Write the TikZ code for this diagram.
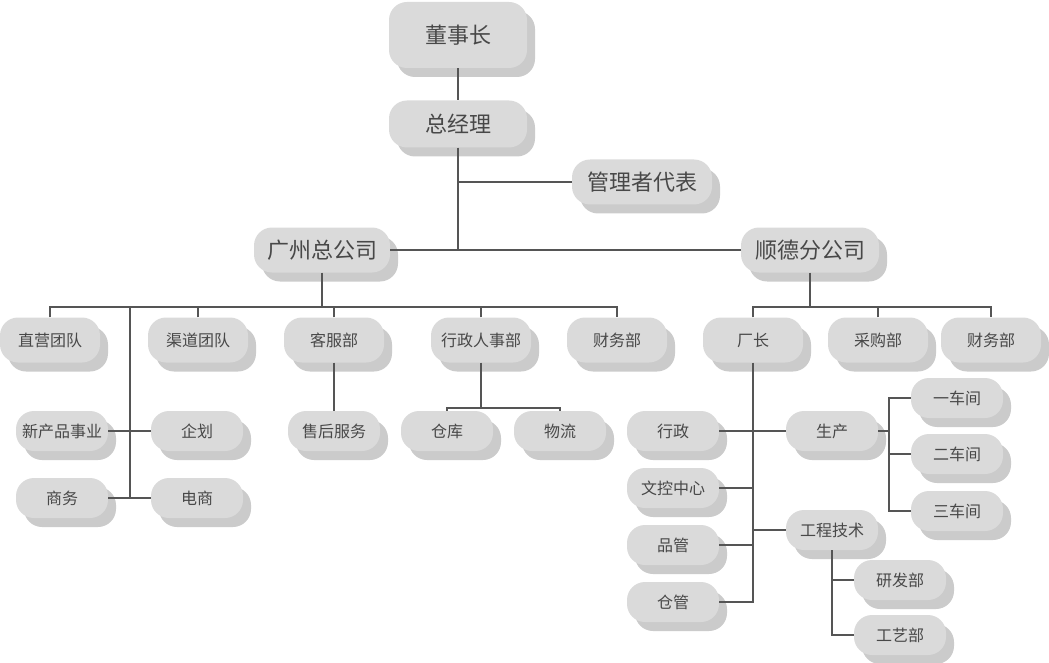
\documentclass[tikz,border=0pt]{standalone}
\usepackage{fontspec}
\setmainfont{Noto Sans CJK SC}
\usetikzlibrary{shadows}
\definecolor{boxgray}{HTML}{DADADA}
\definecolor{shadegray}{HTML}{CBCBCB}
\definecolor{txtgray}{HTML}{484848}
\definecolor{linegray}{HTML}{555555}
\begin{document}
\begin{tikzpicture}[x=1pt, y=-1pt]
    \tikzstyle{box}=[fill=boxgray, text=txtgray, rounded corners=18pt, inner sep=0pt,
      drop shadow={shadow xshift=8pt, shadow yshift=-9pt, fill=shadegray, opacity=1}]
    \tikzstyle{topbox}=[box, font=\fontsize{22}{26}\selectfont]
    \tikzstyle{deptbox}=[box, minimum width=100pt, minimum height=45pt, font=\fontsize{16}{19}\selectfont]
    \tikzstyle{subbox}=[box, minimum width=92pt, minimum height=40pt, font=\fontsize{16}{19}\selectfont]
    \tikzstyle{link}=[draw=linegray, line width=1.5pt]
    \useasboundingbox (0,0) rectangle (1049,663);
    % top levels
    \node[topbox, minimum width=138pt, minimum height=66pt] (dsz) at (458,35) {董事长};
    \node[topbox, minimum width=138pt, minimum height=47pt] (zjl) at (458,124) {总经理};
    \node[topbox, minimum width=140pt, minimum height=45pt] (glz) at (642,182) {管理者代表};
    \node[topbox, minimum width=136pt, minimum height=45pt] (gz) at (322,250) {广州总公司};
    \node[topbox, minimum width=138pt, minimum height=45pt] (sd) at (810,250) {顺德分公司};
    % departments
    \node[deptbox] (zy) at (50,340) {直营团队};
    \node[deptbox] (qd) at (198,340) {渠道团队};
    \node[deptbox] (kf) at (334,340) {客服部};
    \node[deptbox] (xzrs) at (481,340) {行政人事部};
    \node[deptbox] (cw1) at (617,340) {财务部};
    \node[deptbox] (cz) at (753,340) {厂长};
    \node[deptbox] (cgb) at (878,340) {采购部};
    \node[deptbox] (cw2) at (991,340) {财务部};
    % sub units
    \node[subbox] (xcp) at (62,431) {新产品事业};
    \node[subbox] (qh) at (197,431) {企划};
    \node[subbox] (sw) at (62,498) {商务};
    \node[subbox] (ds) at (197,498) {电商};
    \node[subbox] (shfw) at (334,431) {售后服务};
    \node[subbox] (ck) at (447,431) {仓库};
    \node[subbox] (wl) at (560,431) {物流};
    \node[subbox] (xz) at (673,431) {行政};
    \node[subbox] (wk) at (673,488) {文控中心};
    \node[subbox] (pg) at (673,545) {品管};
    \node[subbox] (cg) at (673,602) {仓管};
    \node[subbox] (sc) at (832,431) {生产};
    \node[subbox] (gc) at (832,530) {工程技术};
    \node[subbox] (cj1) at (957,398) {一车间};
    \node[subbox] (cj2) at (957,454) {二车间};
    \node[subbox] (cj3) at (957,511) {三车间};
    \node[subbox] (yf) at (900,580) {研发部};
    \node[subbox] (gy) at (900,635) {工艺部};
    % connectors
    \coordinate (zjlb) at (458,250);
    \coordinate (gzb) at (322,307);
    \coordinate (sdb) at (810,307);
    \coordinate (xzb) at (481,408);
    \coordinate (leftv) at (130,307);
    \draw[link] (dsz) -- (zjl);
    \draw[link] (zjl) -- (zjlb);
    \draw[link] (glz.west) -- (glz.west -| zjlb);
    \draw[link] (gz) -- (sd);
    \draw[link] (gz) -- (gzb);
    \draw[link] (zy.north) |- (gzb) -| (cw1.north);
    \foreach \n in {qd,kf,xzrs} \draw[link] (\n.north) -- (\n.north |- gzb);
    \draw[link] (leftv) -- (leftv |- ds.west);
    \draw[link] (xcp) -- (qh);
    \draw[link] (sw) -- (ds);
    \draw[link] (kf) -- (shfw);
    \draw[link] (xzrs) -- (xzb);
    \draw[link] (ck.north) |- (xzb) -| (wl.north);
    \draw[link] (sd) -- (sdb);
    \draw[link] (cz.north) |- (sdb) -| (cw2.north);
    \draw[link] (cgb.north) -- (cgb.north |- sdb);
    \draw[link] (cz) |- (cg);
    \draw[link] (xz) -- (sc);
    \draw[link] (wk.east) -- (wk.east -| cz);
    \draw[link] (pg.east) -- (pg.east -| cz);
    \draw[link] (gc.west) -- (gc.west -| cz);
    \coordinate (scr) at (889,431);
    \draw[link] (sc.east) -- (scr);
    \draw[link] (cj1.west) -| (scr |- cj3.west) -- (cj3.west);
    \draw[link] (cj2.west) -- (cj2.west -| scr);
    \draw[link] (gc.south) |- (gy.west);
    \draw[link] (yf.west) -- (yf.west -| gc.south);
\end{tikzpicture}
\end{document}
